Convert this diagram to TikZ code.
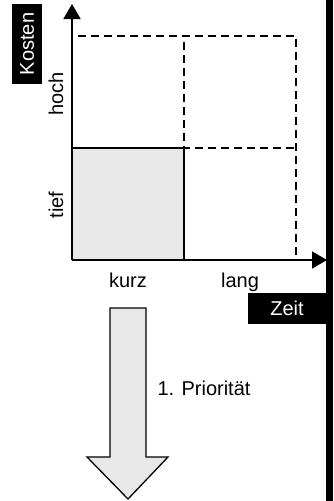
\documentclass[tikz,border=0pt]{standalone}
\usepackage{fontspec}
\setmainfont{Liberation Sans}
\usetikzlibrary{arrows.meta,positioning}
\definecolor{boxgray}{gray}{0.91}

\begin{document}
\begin{tikzpicture}[x=1pt,y=-1pt,line width=1.6pt,
    axis/.style={-{Triangle[length=15pt,width=17pt]}},
    txt/.style={font=\fontsize{20}{24}\selectfont,inner sep=0pt},
    tag/.style={txt,fill=black,text=white},
    grid/.style={dash pattern=on 8pt off 5pt}]
        \useasboundingbox (0,0) rectangle (333,501);
        \fill (326,0) rectangle (333,501); % rand

        \coordinate (O) at (72,260);
        \coordinate (ytop) at (72,4);
        \coordinate (xend) at (327,260);

        \fill[boxgray] (72,148) rectangle (184,260);
        \draw (72,148) -- (184,148) -- (184,260);
        \draw[grid] (78,36) -- (296,36) -- (296,260);
        \draw[grid] (184,42) -- (184,148) -- (296,148);
        \draw[axis] (O) -- (ytop);
        \draw[axis] (O) -- (xend);

        \node[tag,rotate=90,minimum width=80pt,minimum height=30pt] (kosten) at (27,44) {Kosten};
        \node[tag,minimum width=78pt,minimum height=31pt] (zeit) at (287,308.5) {Zeit};
        \node[txt,rotate=90,anchor=base] (hoch) at (63,94) {hoch};
        \node[txt,rotate=90,anchor=base] (tief) at (63,205) {tief};
        \node[txt,anchor=base] (kurz) at (128,287) {kurz};
        \node[txt,anchor=base] (lang) at (240,287) {lang};

        \filldraw[fill=boxgray,line width=1.3pt] (110,308) -- (146,308) -- (146,457) -- (168,457)
            -- (128,499) -- (87,457) -- (110,457) -- cycle;
        \node[txt] (prio) at (204,388) {1. Priorität};
\end{tikzpicture}
\end{document}
